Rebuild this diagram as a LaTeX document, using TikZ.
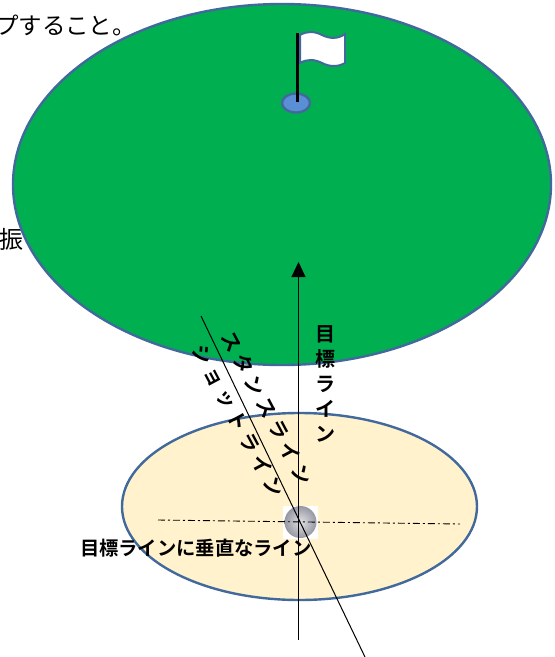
\documentclass[tikz,border=0pt]{standalone}
\usepackage{fontspec}
\setmainfont{Noto Sans CJK JP}
\newfontfamily\jpbold{Noto Sans CJK JP Bold}
\usetikzlibrary{arrows.meta}
\definecolor{greenfill}{HTML}{00B050}
\definecolor{tanfill}{HTML}{FFF2CC}
\definecolor{edgeblue}{HTML}{41699C}
\definecolor{holeblue}{HTML}{5B8FD5}
\definecolor{ballgrey}{HTML}{A8A8B4}
\tikzset{
  px/.style={x=1pt,y=-1pt},
  edge/.style={draw=edgeblue,line width=2.4pt},
  plain/.style={inner sep=0pt,outer sep=0pt,text=black},
  thinline/.style={black,line width=1pt},
  spaced/.style={plain,font=\fontsize{20}{20}\selectfont\jpbold,rotate=-62},
}
\newcommand{\gapA}{\hspace{5pt}}
\begin{document}
\begin{tikzpicture}[px]
\useasboundingbox (0,0) rectangle (555,657);
\node[plain,anchor=west,font=\fontsize{23.5}{24}\selectfont] (top) at (-5,25) {プすること。};
\node[plain,anchor=west,font=\fontsize{24}{24}\selectfont] (shin) at (-1,239) {振};
\path[edge,fill=greenfill] (282,184.5) ellipse [x radius=269,y radius=180.5];
\path[edge,fill=tanfill] (299.5,506.5) ellipse [x radius=177.5,y radius=93.5];
% hole and flag
\path[edge,fill=holeblue] (296,103) ellipse [x radius=14,y radius=9.5];
\path[edge,fill=white,line width=2pt] (300,35)
  .. controls (307,31) and (314,31) .. (322,35)
  .. controls (330,39) and (338,39) .. (345,34)
  -- (345,63)
  .. controls (338,67) and (330,67) .. (322,63)
  .. controls (314,59) and (307,59) .. (300,63) -- cycle;
\coordinate (poleA) at (297,33);
\coordinate (poleB) at (297,102);
\draw[black,line width=3pt] (poleA) -- (poleB);
% ball
\fill[white] (283,506) rectangle (318,539);
\shade[inner color=ballgrey!35,outer color=ballgrey!90!black] (300.5,522) circle (16);
% lines
\coordinate (aimS) at (298.5,640);
\coordinate (aimE) at (298.5,262);
\draw[thinline,-{Triangle[length=15pt,width=14pt]}] (aimS) -- (aimE);
\coordinate (shotA) at (201,316);
\coordinate (shotB) at (365,657);
\draw[thinline] (shotA) -- (shotB);
\coordinate (perpA) at (158,520);
\coordinate (perpB) at (460,524);
\draw[black,line width=0.9pt,dash pattern=on 7pt off 3pt on 2pt off 3pt] (perpA) -- (perpB);
% labels
\node[spaced] (stance) at (267,408) {ス\gapA タ\gapA ン\gapA ス\gapA ラ\gapA イ\gapA ン};
\node[spaced] (shot) at (238,421) {シ\gapA ョ\gapA ッ\gapA ト\gapA ラ\gapA イ\gapA ン};
\node[plain,font=\fontsize{20}{25}\selectfont\jpbold,align=center] (aim) at (325,384) {目\\標\\ラ\\イ\\ン};
\node[plain,font=\fontsize{19.3}{20}\selectfont\jpbold,anchor=west] (perp) at (80,548) {目標ラインに垂直なライン};
\end{tikzpicture}
\end{document}
